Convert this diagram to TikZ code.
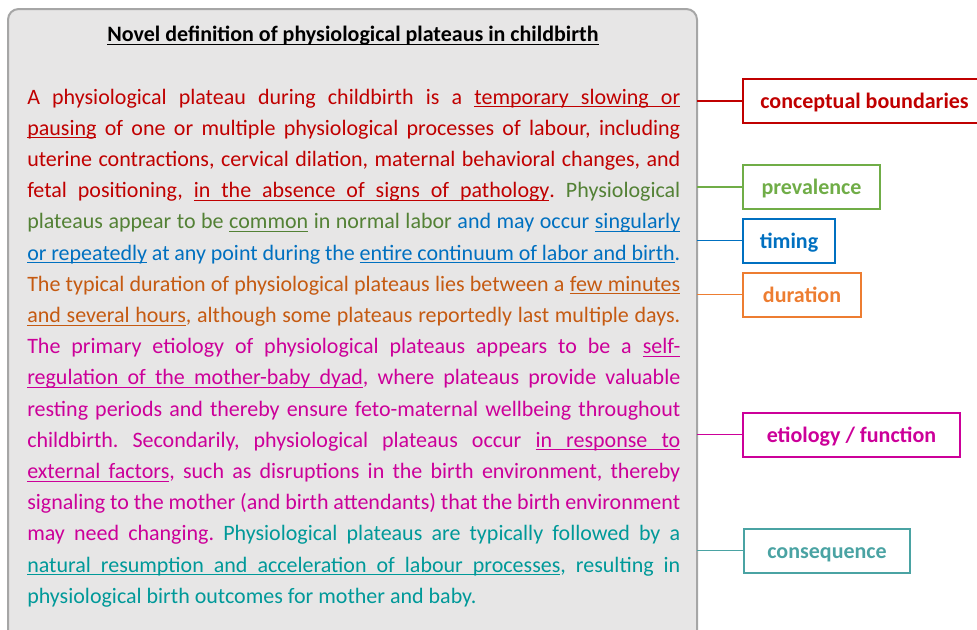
\documentclass[tikz,border=0pt]{standalone}
\usepackage{fontspec}
\setmainfont{Carlito}
% underline that keeps the spaces stretchable
\makeatletter
\newcommand\ulword[1]{\setbox0\hbox{#1}\rlap{\vrule height -1.6pt depth 2.4pt width \wd0}\box0\relax}
\newcommand\ulspace{\leaders\hrule height -1.6pt depth 2.4pt\hskip\fontdimen2\font plus\fontdimen3\font minus\fontdimen4\font}
\def\uline#1{\uline@a#1 \@nil}
\def\uline@a#1 #2\@nil{\ulword{#1}\ifx\relax#2\relax\else\ulspace\uline@a#2\@nil\fi}
\makeatother

\begin{document}
\begin{tikzpicture}[x=0.75pt,y=-0.75pt,
  bigfont/.style={font=\fontsize{16.5}{23.4}\selectfont},
  tagbox/.style={draw,line width=1.5pt,inner sep=0pt,minimum height=33pt,
    text height=13pt,text depth=1.5pt,
    font=\fontsize{16.5}{20}\selectfont\bfseries},
  tagline/.style={line width=0.9pt}]
  % colors
  \definecolor{kRed}{HTML}{C00000}
  \definecolor{kGreen}{HTML}{538135}
  \definecolor{kLightGreen}{HTML}{70AD47}
  \definecolor{kBlue}{HTML}{0070C0}
  \definecolor{kOrange}{HTML}{C55A11}
  \definecolor{kLightOrange}{HTML}{ED7D31}
  \definecolor{kMagenta}{HTML}{CC0099}
  \definecolor{kTeal}{HTML}{009999}
  \definecolor{kLightTeal}{HTML}{4AA3A3}
  \definecolor{kPanel}{HTML}{E7E6E6}
  \definecolor{kPanelLine}{HTML}{A6A6A6}
  \useasboundingbox (0,0) rectangle (977,629);

  % panel
  \begin{scope}
    \clip (0,0) rectangle (977,629);
    \draw[color=kPanelLine,fill=kPanel,line width=1.5pt,rounded corners=8pt] (8,9) rectangle (697,660);
  \end{scope}
  \coordinate (panelE) at (697,0);

  % title
  \node[bigfont,anchor=base,inner sep=0pt] (title) at (353,41.5) {\bfseries\uline{Novel definition of physiological plateaus in childbirth}};

  % definition
  \node[bigfont,anchor=base west,inner sep=0pt,text width=489.75pt,align=justify] (defn) at (27,104) {%
\tolerance=10000\frenchspacing\hyphenpenalty=10000%
{\color{kRed}A physiological plateau during childbirth is a \uline{temporary slowing or}\linebreak
\uline{pausing} of one or multiple physiological processes of labour, including\linebreak
uterine contractions, cervical dilation, maternal behavioral changes, and\linebreak
fetal positioning, \uline{in the absence of signs of pathology}.} {\color{kGreen}Physiological\linebreak
plateaus appear to be \uline{common} in normal labor} {\color{kBlue}and may occur \uline{singularly}\linebreak
\uline{or repeatedly} at any point during the \uline{entire continuum of labor and birth}.}\linebreak
{\color{kOrange}The typical duration of physiological plateaus lies between a \uline{few minutes}\linebreak
\uline{and several hours}, although some plateaus reportedly last multiple days.}\linebreak
{\color{kMagenta}The primary etiology of physiological plateaus appears to be a \uline{self-}\linebreak
\uline{regulation of the mother-baby dyad}, where plateaus provide valuable\linebreak
resting periods and thereby ensure feto-maternal wellbeing throughout\linebreak
childbirth. Secondarily, physiological plateaus occur \uline{in response to}\linebreak
\uline{external factors}, such as disruptions in the birth environment, thereby\linebreak
signaling to the mother (and birth attendants) that the birth environment\linebreak
may need changing.} {\color{kTeal}Physiological plateaus are typically followed by a\linebreak
\uline{natural resumption and acceleration of labour processes}, resulting in\linebreak
physiological birth outcomes for mother and baby.}};

  % tags
  \node[tagbox,color=kRed,minimum width=182.25pt] (concept) at (864.5,101) {conceptual boundaries};
  \node[tagbox,color=kLightGreen,minimum width=102.75pt] (preval) at (811.5,187) {prevalence};
  \node[tagbox,color=kBlue,minimum width=69pt] (timing) at (789,240.5) {timing};
  \node[tagbox,color=kLightOrange,minimum width=88.5pt] (durat) at (802,294.5) {duration};
  \node[tagbox,color=kMagenta,minimum width=162.75pt] (etiol) at (851.5,434.5) {etiology / function};
  \node[tagbox,color=kLightTeal,minimum width=124.5pt] (conseq) at (827,550.5) {consequence};

  % connectors
  \draw[tagline,color=kRed] (concept.west) -- (concept.west -| panelE);
  \draw[tagline,color=kLightGreen] (preval.west) -- (preval.west -| panelE);
  \draw[tagline,color=kBlue] (timing.west) -- (timing.west -| panelE);
  \draw[tagline,color=kLightOrange] (durat.west) -- (durat.west -| panelE);
  \draw[tagline,color=kMagenta] (etiol.west) -- (etiol.west -| panelE);
  \draw[tagline,color=kLightTeal] (conseq.west) -- (conseq.west -| panelE);
\end{tikzpicture}
\end{document}
